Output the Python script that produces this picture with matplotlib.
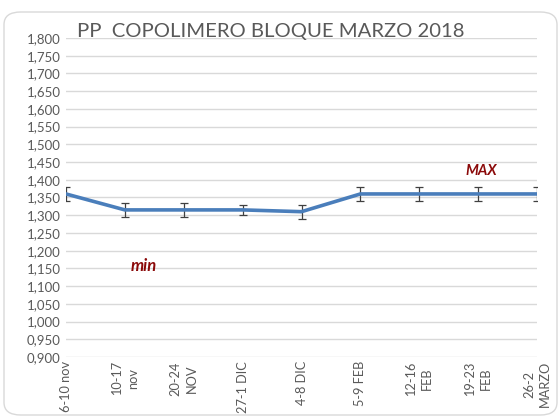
import matplotlib.pyplot as plt
from matplotlib.patches import FancyBboxPatch
from matplotlib.ticker import FuncFormatter

plt.rcParams['font.family'] = ['Lato', 'DejaVu Sans']

semanas = ["6-10 nov", "10-17\nnov", "20-24\nNOV", "27-1 DIC", "4-8 DIC",
           "5-9 FEB", "12-16\nFEB", "19-23\nFEB", "26-2\nMARZO"]
precio = [1.360, 1.315, 1.315, 1.315, 1.310, 1.360, 1.360, 1.360, 1.360]
error = [0.02, 0.02, 0.02, 0.015, 0.02, 0.02, 0.02, 0.02, 0.02]

gris = "#595959"
rojo = "#8B0A0A"

fig = plt.figure(figsize=(5.6, 4.18), dpi=100)
ax = fig.add_axes([66 / 560, 1 - 357 / 418, 471 / 560, 319 / 418])

# marco redondeado tipo Excel
marco = FancyBboxPatch((4 / 560, 3 / 418), 553 / 560, 403 / 418,
                       boxstyle="round,pad=0,rounding_size=0.03",
                       transform=fig.transFigure, fill=False,
                       edgecolor="#D9D9D9", linewidth=1)
fig.patches.append(marco)

x = list(range(len(semanas)))
ax.errorbar(x, precio, yerr=error, color="#4A7EBB", linewidth=2.6,
            ecolor="#404040", elinewidth=0.9, capsize=3, capthick=0.9, zorder=3)

ax.set_xlim(0, len(semanas) - 1)
ax.set_ylim(0.9, 1.8)
ax.set_yticks([0.9 + 0.05 * i for i in range(19)])
ax.yaxis.set_major_formatter(FuncFormatter(lambda v, p: f"{v:.3f}".replace(".", ",")))
ax.grid(axis="y", color="#D9D9D9", linewidth=1)
ax.set_axisbelow(True)
for s in ax.spines.values():
    s.set_visible(False)
ax.tick_params(axis="both", length=0, colors=gris, labelsize=9.5)
ax.tick_params(axis="y", pad=4)
ax.set_xticks(x)
ax.set_xticklabels(semanas, rotation=90, ha="center", va="top",
                   multialignment="center", linespacing=1.4, fontsize=9.2)
ax.tick_params(axis="x", pad=3)

fig.text(271 / 560, 1 - 32 / 418, "PP  COPOLIMERO BLOQUE MARZO 2018",
         ha="center", va="center", fontsize=14.6, color=gris)

ax.text(1.32, 1.157, "min", color=rojo, fontsize=12, fontweight="bold",
        fontstyle="italic", ha="center", va="center")
ax.text(7.05, 1.426, "MAX", color=rojo, fontsize=10.5, fontweight="bold",
        fontstyle="italic", ha="center", va="center")

fig.savefig("out.png", dpi=100)
